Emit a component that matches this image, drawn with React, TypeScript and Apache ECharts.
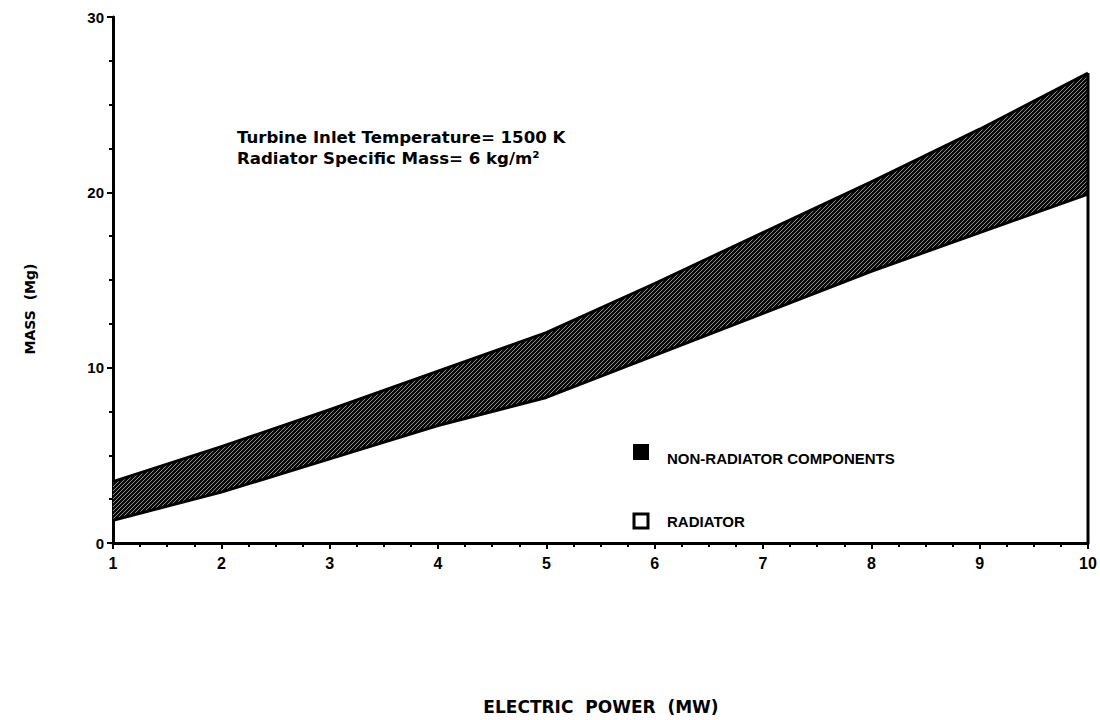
import React, { useEffect, useRef } from "react";
import * as echarts from "echarts";

const powerMW = [1, 2, 3, 4, 5, 6, 7, 8, 9, 10];
const upperMass = [3.5, 5.5, 7.6, 9.8, 12.0, 14.8, 17.7, 20.6, 23.6, 26.8];
const lowerMass = [1.3, 2.9, 4.8, 6.7, 8.3, 10.7, 13.1, 15.5, 17.7, 19.9];
const xTicks = ["1", "2", "3", "4", "5", "6", "7", "8", "9", "10"];
const yTicks = ["0", "10", "20", "30"];
const annotationLines = ["Turbine Inlet Temperature= 1500 K", "Radiator Specific Mass= 6 kg/m²"];
const legendLabels = ["NON-RADIATOR COMPONENTS", "RADIATOR"];
const xAxisTitle = "ELECTRIC  POWER  (MW)";
const yAxisTitle = "MASS  (Mg)";

function makeHatch(): HTMLCanvasElement {
  const c = document.createElement("canvas");
  const s = 4;
  c.width = s;
  c.height = s;
  const ctx = c.getContext("2d")!;
  ctx.fillStyle = "#0a0a0a";
  ctx.fillRect(0, 0, s, s);
  ctx.strokeStyle = "rgba(255,255,255,0.6)";
  ctx.lineWidth = 0.9;
  ctx.beginPath();
  ctx.moveTo(-1, s + 1);
  ctx.lineTo(s + 1, -1);
  ctx.moveTo(-1, 1);
  ctx.lineTo(1, -1);
  ctx.moveTo(s - 1, s + 1);
  ctx.lineTo(s + 1, s - 1);
  ctx.stroke();
  return c;
}

export default function App() {
  const ref = useRef<HTMLDivElement>(null);
  useEffect(() => {
    if (!ref.current) return;
    const chart = echarts.init(ref.current, undefined, { renderer: "svg" });
    const font = "'Liberation Sans', Arial, sans-serif";
    const wide = "'DejaVu Sans', sans-serif";
    const hatch = makeHatch();
    const bandData = powerMW.map((x, i) => [x, lowerMass[i], upperMass[i]]);
    const last = powerMW.length - 1;
    chart.setOption({
      animation: false,
      backgroundColor: "#fff",
      grid: { left: 113, right: 12, top: 17, bottom: 177, containLabel: false },
      xAxis: {
        type: "value",
        min: 1,
        max: 10,
        interval: 1,
        axisLine: { lineStyle: { color: "#000", width: 3 } },
        axisTick: { show: true, length: 6, lineStyle: { width: 2, color: "#000" } },
        minorTick: { show: true, splitNumber: 4, length: 4, lineStyle: { width: 2, color: "#000" } },
        splitLine: { show: false },
        axisLabel: {
          fontFamily: font,
          fontWeight: "bold",
          fontSize: 16,
          color: "#000",
          margin: 12,
          formatter: (v: number) => xTicks[Math.round(v) - 1] ?? "",
        },
      },
      yAxis: {
        type: "value",
        min: 0,
        max: 30,
        interval: 10,
        axisLine: { show: true, lineStyle: { color: "#000", width: 3 } },
        axisTick: { show: true, length: 6, lineStyle: { width: 2, color: "#000" } },
        minorTick: { show: true, splitNumber: 4, length: 4, lineStyle: { width: 2, color: "#000" } },
        splitLine: { show: false },
        axisLabel: {
          fontFamily: font,
          fontWeight: "bold",
          fontSize: 15,
          color: "#000",
          margin: 9,
          formatter: (v: number) => yTicks[Math.round(v / 10)] ?? "",
        },
      },
      series: [
        {
          type: "custom",
          name: "band",
          data: bandData,
          silent: true,
          z: 2,
          renderItem: (params: any, api: any) => {
            if (params.dataIndexInside !== 0) return null;
            const n = params.dataInsideLength;
            const up: number[][] = [];
            const lo: number[][] = [];
            for (let i = 0; i < n; i++) {
              const x = api.value(0, i);
              lo.push(api.coord([x, api.value(1, i)]));
              up.push(api.coord([x, api.value(2, i)]));
            }
            const poly = up.concat(lo.slice().reverse());
            return {
              type: "group",
              children: [
                {
                  type: "polygon",
                  shape: { points: poly },
                  style: { fill: { image: hatch, repeat: "repeat" }, stroke: null },
                },
                {
                  type: "polyline",
                  shape: { points: up },
                  style: { stroke: "#000", lineWidth: 3, fill: null, lineJoin: "round" },
                },
                {
                  type: "polyline",
                  shape: { points: lo },
                  style: { stroke: "#000", lineWidth: 3, fill: null, lineJoin: "round" },
                },
              ],
            };
          },
        },
        {
          type: "line",
          name: "edge",
          data: [
            [powerMW[last], 0],
            [powerMW[last], upperMass[last]],
          ],
          symbol: "none",
          lineStyle: { color: "#000", width: 3 },
          silent: true,
        },
      ],
      graphic: [
        {
          type: "text",
          left: 237,
          top: 127,
          z: 100,
          style: {
            text: annotationLines.join("\n"),
            fontFamily: wide,
            fontWeight: "bold",
            fontSize: 16.6,
            lineHeight: 21,
            fill: "#000",
          },
        },
        {
          type: "rect",
          z: 100,
          shape: { x: 633, y: 444, width: 16, height: 16 },
          style: { fill: "#000" },
        },
        {
          type: "text",
          left: 667,
          top: 451,
          z: 100,
          style: {
            text: legendLabels[0],
            fontFamily: font,
            fontWeight: "bold",
            fontSize: 15,
            fill: "#000",
          },
        },
        {
          type: "rect",
          z: 100,
          shape: { x: 634, y: 514, width: 14, height: 14 },
          style: { fill: "#fff", stroke: "#000", lineWidth: 3 },
        },
        {
          type: "text",
          left: 667,
          top: 514,
          z: 100,
          style: {
            text: legendLabels[1],
            fontFamily: font,
            fontWeight: "bold",
            fontSize: 15,
            fill: "#000",
          },
        },
        {
          type: "text",
          x: 601,
          y: 707,
          z: 100,
          style: {
            text: xAxisTitle,
            fontFamily: wide,
            fontWeight: "bold",
            fontSize: 17,
            fill: "#000",
            align: "center",
            verticalAlign: "middle",
          },
        },
        {
          type: "text",
          x: 30,
          y: 309,
          rotation: Math.PI / 2,
          z: 100,
          style: {
            text: yAxisTitle,
            fontFamily: wide,
            fontWeight: "bold",
            fontSize: 14,
            fill: "#000",
            align: "center",
            verticalAlign: "middle",
          },
        },
      ],
    });
    return () => chart.dispose();
  }, []);
  return (
    <div
      ref={ref}
      style={{ position: "fixed", left: 0, top: 0, width: 1100, height: 720, background: "#fff" }}
    />
  );
}
